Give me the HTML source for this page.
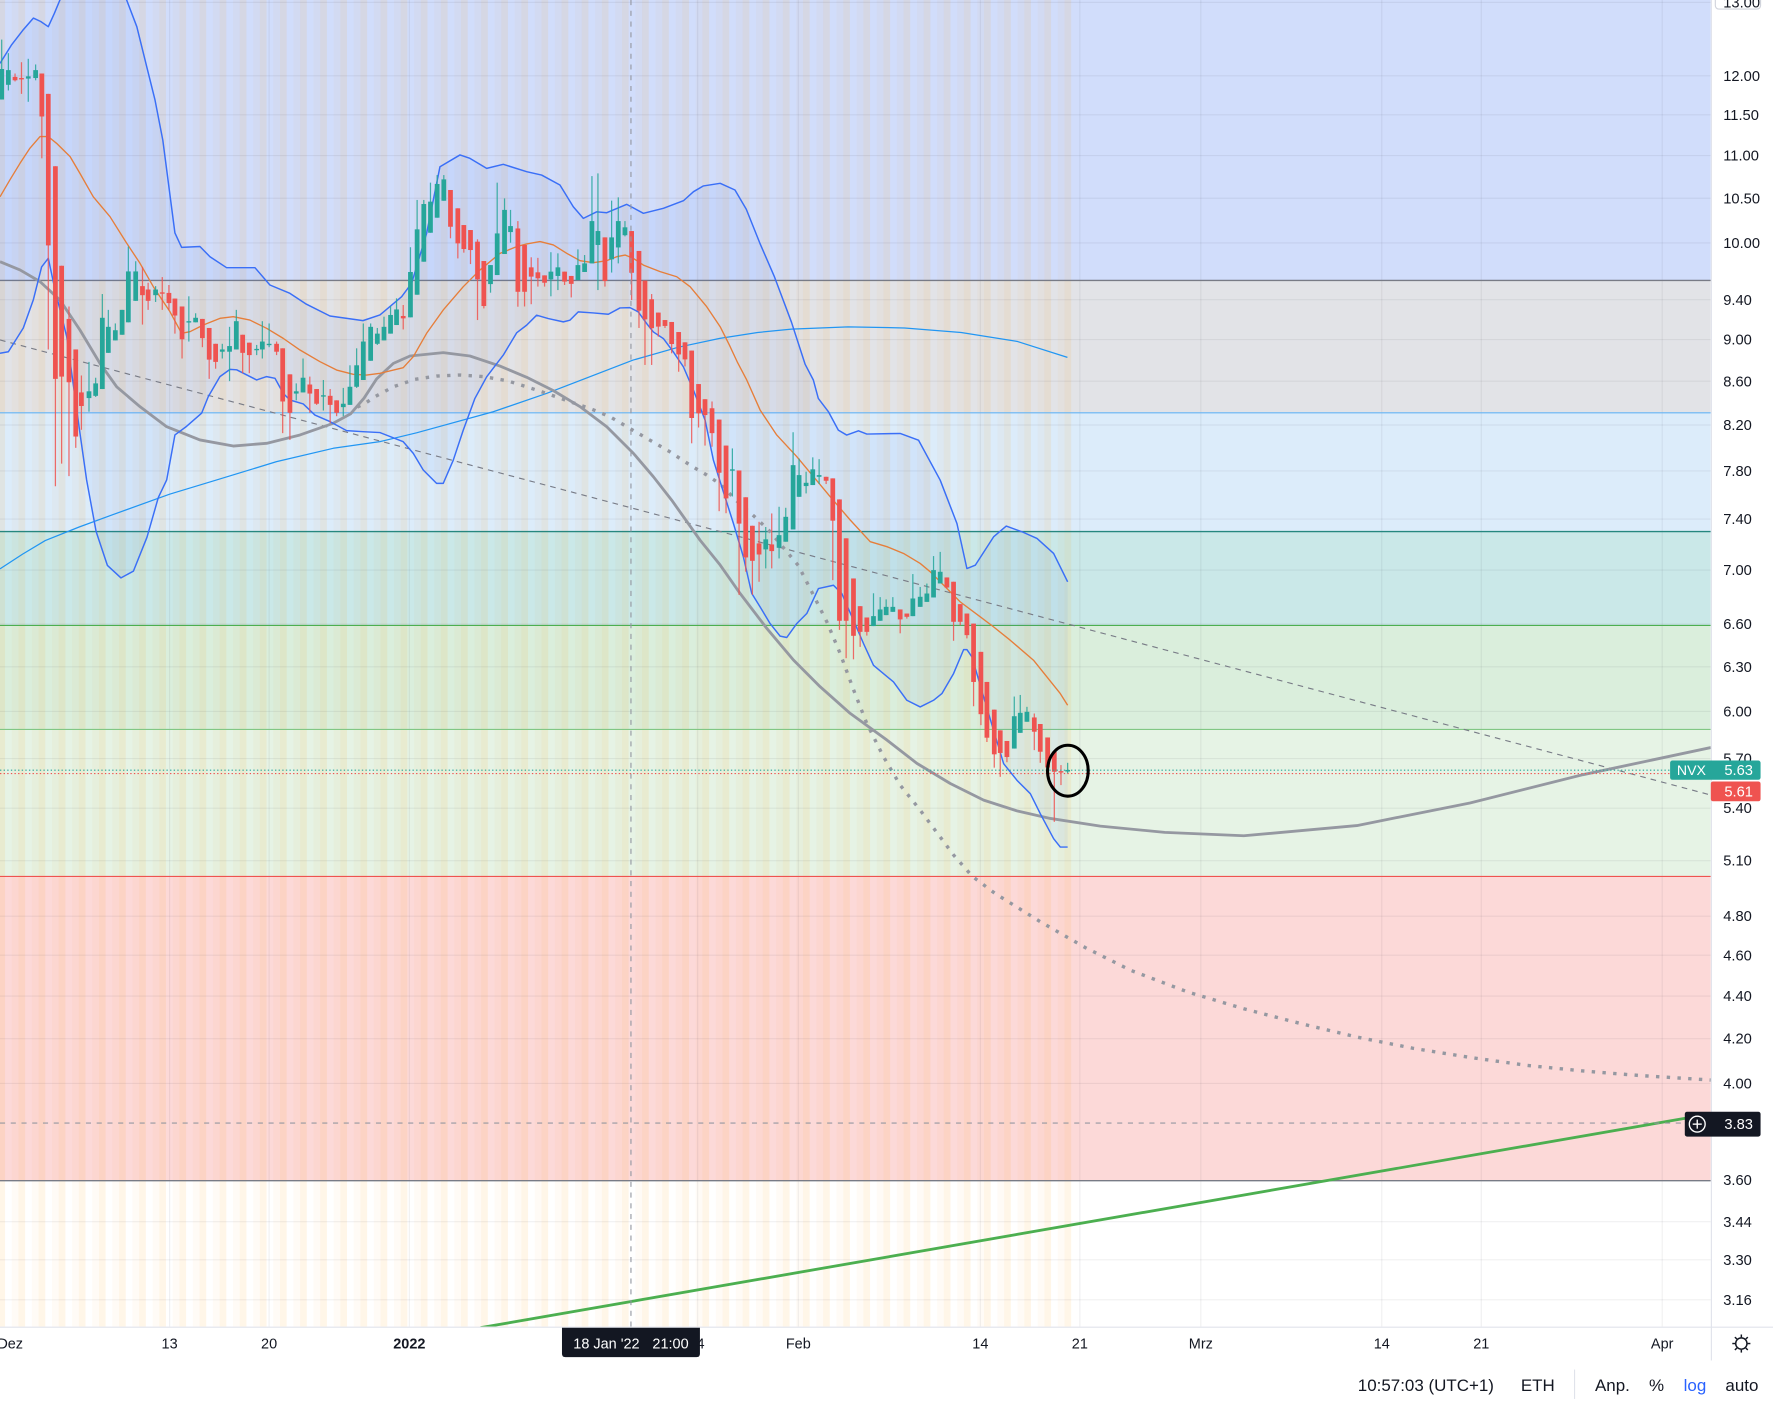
<!DOCTYPE html>
<html><head><meta charset="utf-8">
<style>
html,body{margin:0;padding:0;background:#fff;}
svg{display:block;}
text{font-family:"Liberation Sans",Arial,sans-serif;}
</style></head>
<body>
<svg id="s" width="1773" height="1408" viewBox="0 0 1568 1245" preserveAspectRatio="none" xmlns="http://www.w3.org/2000/svg">
<defs><clipPath id="pc"><rect x="0" y="0" width="1513" height="1173"/></clipPath></defs>
<rect width="1568" height="1245" fill="#fff"/>
<g clip-path="url(#pc)">
 <rect x="0" y="0" width="1513" height="248" fill="#d1ddfb"/>
 <rect x="0" y="248" width="1513" height="117" fill="#e2e3e7"/>
 <rect x="0" y="365" width="1513" height="105" fill="#dcecfa"/>
 <rect x="0" y="470" width="1513" height="83" fill="#cae8e8"/>
 <rect x="0" y="553" width="1513" height="92" fill="#daeedc"/>
 <rect x="0" y="645" width="1513" height="130" fill="#e6f3e5"/>
 <rect x="0" y="775" width="1513" height="269" fill="#fcd9d8"/>
 <g id="stripes"></g>
 <g stroke="rgba(42,46,57,0.07)" stroke-width="1">
  <line x1="0" x2="1513" y1="2.1" y2="2.1"/><line x1="0" x2="1513" y1="67" y2="67"/><line x1="0" x2="1513" y1="101.5" y2="101.5"/><line x1="0" x2="1513" y1="137.6" y2="137.6"/><line x1="0" x2="1513" y1="175.3" y2="175.3"/><line x1="0" x2="1513" y1="214.8" y2="214.8"/><line x1="0" x2="1513" y1="265" y2="265"/><line x1="0" x2="1513" y1="300.3" y2="300.3"/><line x1="0" x2="1513" y1="337.1" y2="337.1"/><line x1="0" x2="1513" y1="375.8" y2="375.8"/><line x1="0" x2="1513" y1="416.4" y2="416.4"/><line x1="0" x2="1513" y1="459" y2="459"/><line x1="0" x2="1513" y1="504.1" y2="504.1"/><line x1="0" x2="1513" y1="551.8" y2="551.8"/><line x1="0" x2="1513" y1="589.6" y2="589.6"/><line x1="0" x2="1513" y1="629.1" y2="629.1"/><line x1="0" x2="1513" y1="670.7" y2="670.7"/><line x1="0" x2="1513" y1="714.6" y2="714.6"/><line x1="0" x2="1513" y1="761" y2="761"/><line x1="0" x2="1513" y1="810.1" y2="810.1"/><line x1="0" x2="1513" y1="844.6" y2="844.6"/><line x1="0" x2="1513" y1="880.7" y2="880.7"/><line x1="0" x2="1513" y1="918.4" y2="918.4"/><line x1="0" x2="1513" y1="958" y2="958"/><line x1="0" x2="1513" y1="1080.3" y2="1080.3"/><line x1="0" x2="1513" y1="1114" y2="1114"/><line x1="0" x2="1513" y1="1149.3" y2="1149.3"/>
  <line x1="150" x2="150" y1="0" y2="1173"/><line x1="238" x2="238" y1="0" y2="1173"/><line x1="362" x2="362" y1="0" y2="1173"/><line x1="617" x2="617" y1="0" y2="1173"/><line x1="706" x2="706" y1="0" y2="1173"/><line x1="867" x2="867" y1="0" y2="1173"/><line x1="955" x2="955" y1="0" y2="1173"/><line x1="1062" x2="1062" y1="0" y2="1173"/><line x1="1222" x2="1222" y1="0" y2="1173"/><line x1="1310" x2="1310" y1="0" y2="1173"/><line x1="1470" x2="1470" y1="0" y2="1173"/>
 </g>
 <line x1="0" x2="1513" y1="248" y2="248" stroke="#787b86" stroke-width="1.2"/>
 <line x1="0" x2="1513" y1="365" y2="365" stroke="#64b5f6" stroke-width="1"/>
 <line x1="0" x2="1513" y1="470" y2="470" stroke="#26877f" stroke-width="1.2"/>
 <line x1="0" x2="1513" y1="553" y2="553" stroke="#4caf50" stroke-width="1"/>
 <line x1="0" x2="1513" y1="645" y2="645" stroke="#81c784" stroke-width="1"/>
 <line x1="0" x2="1513" y1="775" y2="775" stroke="#ef5350" stroke-width="1"/>
 <line x1="0" x2="1513" y1="1044" y2="1044" stroke="#787b86" stroke-width="1.2"/>
 <g id="series"></g>
 <line x1="558" x2="558" y1="0" y2="1173" stroke="#9598a1" stroke-width="1" stroke-dasharray="4.5 5"/>
 <line x1="0" x2="1513" y1="993" y2="993" stroke="#9598a1" stroke-width="1" stroke-dasharray="4.5 5"/>
 <line x1="0" x2="1513" y1="681" y2="681" stroke="#26a69a" stroke-width="1" stroke-dasharray="1.2 2"/>
 <line x1="0" x2="1513" y1="684" y2="684" stroke="#ef5350" stroke-width="1" stroke-dasharray="1.2 2"/>
 <ellipse cx="944.4" cy="681.5" rx="18" ry="22.5" fill="none" stroke="#000" stroke-width="2.7"/>
</g>
<line x1="1513.5" x2="1513.5" y1="0" y2="1203" stroke="#e0e3eb" stroke-width="1"/>
<line x1="0" x2="1568" y1="1173.5" y2="1173.5" stroke="#e0e3eb" stroke-width="1"/>
<g font-size="13" fill="#131722">
 <text x="1524" y="6.6">13.00</text>
 <text x="1524" y="71.5">12.00</text>
 <text x="1524" y="106">11.50</text>
 <text x="1524" y="142">11.00</text>
 <text x="1524" y="179.8">10.50</text>
 <text x="1524" y="219.3">10.00</text>
 <text x="1524" y="269.5">9.40</text>
 <text x="1524" y="304.8">9.00</text>
 <text x="1524" y="341.6">8.60</text>
 <text x="1524" y="380.3">8.20</text>
 <text x="1524" y="420.9">7.80</text>
 <text x="1524" y="463.5">7.40</text>
 <text x="1524" y="508.6">7.00</text>
 <text x="1524" y="556.3">6.60</text>
 <text x="1524" y="594.1">6.30</text>
 <text x="1524" y="633.6">6.00</text>
 <text x="1524" y="675.2">5.70</text>
 <text x="1524" y="719.1">5.40</text>
 <text x="1524" y="765.5">5.10</text>
 <text x="1524" y="814.6">4.80</text>
 <text x="1524" y="849.1">4.60</text>
 <text x="1524" y="885.2">4.40</text>
 <text x="1524" y="922.9">4.20</text>
 <text x="1524" y="962.5">4.00</text>
 <text x="1524" y="1048">3.60</text>
 <text x="1524" y="1084.8">3.44</text>
 <text x="1524" y="1118.5">3.30</text>
 <text x="1524" y="1153.8">3.16</text>
</g>
<rect x="1517" y="-8" width="40" height="16" rx="3" fill="none" stroke="#d1d4dc" stroke-width="1"/>
<rect x="1477" y="672.5" width="80" height="17" rx="2" fill="#26a69a"/>
<text x="1483" y="685.5" font-size="12.5" fill="#fff">NVX</text>
<text x="1525" y="685.5" font-size="13" fill="#fff">5.63</text>
<rect x="1513" y="691" width="44" height="17.5" rx="2" fill="#ef5350"/>
<text x="1525" y="704.3" font-size="13" fill="#fff">5.61</text>
<rect x="1490" y="983" width="67" height="22" rx="2" fill="#131722"/>
<circle cx="1501" cy="994" r="7" fill="none" stroke="#fff" stroke-width="1.2"/>
<line x1="1497" x2="1505" y1="994" y2="994" stroke="#fff" stroke-width="1.2"/>
<line x1="1501" x2="1501" y1="990" y2="998" stroke="#fff" stroke-width="1.2"/>
<text x="1525" y="998.5" font-size="13" fill="#fff">3.83</text>
<g font-size="12.8" fill="#131722" text-anchor="middle">
 <text x="9" y="1192.5">Dez</text>
 <text x="150" y="1192.5">13</text>
 <text x="238" y="1192.5">20</text>
 <text x="362" y="1192.5" font-weight="bold">2022</text>
 <text x="616" y="1192.5">24</text>
 <text x="706" y="1192.5">Feb</text>
 <text x="867" y="1192.5">14</text>
 <text x="955" y="1192.5">21</text>
 <text x="1062" y="1192.5">Mrz</text>
 <text x="1222" y="1192.5">14</text>
 <text x="1310" y="1192.5">21</text>
 <text x="1470" y="1192.5">Apr</text>
</g>
<path d="M497 1174 H619 V1197 Q619 1200 616 1200 H500 Q497 1200 497 1197 Z" fill="#131722"/>
<text x="507" y="1192.5" font-size="12.8" fill="#fff">18 Jan '22</text>
<text x="577" y="1192.5" font-size="12.8" fill="#fff">21:00</text>
<g stroke="#131722" stroke-width="1.3" fill="none">
 <circle cx="1540" cy="1188" r="5"/>
 <line x1="1540" y1="1180" x2="1540" y2="1182.5"/><line x1="1540" y1="1193.5" x2="1540" y2="1196"/>
 <line x1="1532" y1="1188" x2="1534.5" y2="1188"/><line x1="1545.5" y1="1188" x2="1548" y2="1188"/>
 <line x1="1534.3" y1="1182.3" x2="1536" y2="1184"/><line x1="1544" y1="1192" x2="1545.7" y2="1193.7"/>
 <line x1="1545.7" y1="1182.3" x2="1544" y2="1184"/><line x1="1536" y1="1192" x2="1534.3" y2="1193.7"/>
</g>
<g font-size="15" fill="#131722" text-anchor="middle">
 <text x="1261" y="1230">10:57:03 (UTC+1)</text>
 <text x="1360" y="1230">ETH</text>
 <text x="1426" y="1230">Anp.</text>
 <text x="1465" y="1230">%</text>
 <text x="1499" y="1230" fill="#2962ff">log</text>
 <text x="1540.5" y="1230">auto</text>
</g>
<line x1="1392.5" x2="1392.5" y1="1211" y2="1237" stroke="#e0e3eb" stroke-width="1"/>
</svg>
<script>
(function(){
const NS="http://www.w3.org/2000/svg";
const S=document.getElementById('series');
const ST=document.getElementById('stripes');
function el(n,a,p){const e=document.createElementNS(NS,n);for(const k in a)e.setAttribute(k,a[k]);(p||S).appendChild(e);return e;}
function pts(a){let s='';for(let i=0;i<a.length;i+=2)s+=a[i]+','+a[i+1]+' ';return s;}
for(let i=0;i<160;i++){const x=1.5+i*5.93;
 if(i%3==0) el('rect',{x:x-2.97,y:0,width:5.93,height:1173,fill:'rgba(255,152,0,0.09)'},ST);
 else if(i%3==2) el('rect',{x:x-2.97,y:0,width:5.93,height:1173,fill:'rgba(255,152,0,0.035)'},ST);
}
const U=[0,56,10,40,20,27,29.5,16,36,19,42.7,23.6,48,12,53,0,65,-25,85,-35,105,-15,112,0,121,23.6,130,60,137,88,144,124,150,170,154.7,206,160.6,218.7,176.8,218,185.7,227,200.4,236.7,225.5,236.7,238.7,252,256.4,259.4,271,269,291.8,279.4,321,283.5,336,278.5,355.2,262.3,364,250.5,377.3,206.3,389.1,147.4,406.8,137,415.6,140,430.4,148.9,445.1,145.3,465.8,151.8,479,154.8,495.2,163.6,507,182.8,515.9,193.1,527.7,187.3,536.6,188.1,554.3,180.7,569,188.6,586.7,184.2,604.4,177.5,613.3,169.5,622.1,164.4,636.9,162.1,650,168,660,185,672,215,685,245,700,285,712,322,719.3,336,723.7,352.3,732.6,364,741.4,380.3,748.8,384.7,759.2,380.9,766.6,383.8,796.1,383.3,812.3,389.2,831.5,424.6,846.3,462.9,855.1,502.7,862.5,499.8,878.7,474.7,889.9,465.2,903.8,470.2,917.1,476.1,931.8,489.4,944.2,514.5];
const L=[0,312.4,7.4,311,20.6,290,29.5,265,36.8,236,42.7,228.4,48.6,256,59,297.7,70.7,383,76.6,424.4,85,470,95,500,107,511,118,505,130,475,140,440,147.4,424.4,154.7,384.6,165,377,178.3,365.4,184.2,350.7,194.5,333,203.4,326.6,209.3,327,227,336,235.8,333,243.2,334.5,250.5,347.8,256.4,353.7,268.2,357.2,278.5,367,291.8,372.8,306.5,380.8,321,381.7,336,382.5,356.6,390.6,365.5,400.9,374.3,415.6,386.1,427.4,392,427.4,400.9,406.8,409.7,380.3,420,352.3,430.4,333.2,445.1,314,456.9,294.3,465.8,287.5,474.6,278.7,484.9,281.7,498.2,284.6,504.1,283.1,511.4,275.8,524.7,276.7,538,277.9,548.3,272.3,557.1,272,564.5,275.8,571.9,286.1,577.8,293.5,586.7,299.4,595.5,311.2,604.4,324.4,613.3,345.1,623.6,371.6,630.9,406.8,639.7,434.8,648.6,462.8,657.4,492.3,664.8,524.7,672.2,536.6,681,551.3,689.9,562.5,695.8,563.7,704.7,551.3,713.5,542.5,723.8,520.4,737.1,517.5,744.5,524.9,754.8,548.5,763.7,569.1,772.5,588.3,790.2,603,802,619.2,813.8,625.1,825.6,619.2,833,613.3,843.3,595.6,852.2,574.4,855.1,574.4,859.6,580.9,869.9,616.3,878.7,645.8,887.6,675.3,899.4,690,911.2,701.8,920,719.5,931.8,741.6,937.7,749,944.2,749];
const O=[0,174,8.8,159,17.7,144.4,26.5,131,35.4,120.8,42.7,120.8,50,126.7,62,138.5,70.7,153.3,82.5,174,97.3,191.6,112,215,123.8,232.8,135.6,253.5,150.3,275.6,160.6,294.7,168,293.3,179.8,287.4,194.5,281.5,206.3,280,221,283,235.8,290.3,250.5,299.2,265.3,309.5,283,319.8,297.7,327.2,312.4,331,324.2,331.6,336.1,330.1,356.6,325.1,365.5,315.4,377.3,294.7,392,274.1,409.7,253.5,424.5,238.7,442.2,224,456.9,218.1,465.8,215.7,477.6,213.6,489.4,216.6,501.2,224,513,230.5,524.7,232.3,536.6,230.5,545.4,227,552.8,225.5,560.2,228.5,569,234.4,583.8,240.2,598.5,244.7,610.3,253.5,625,271.2,636.9,288.9,645,305,652,320,660.4,336,672.2,362.5,686.9,384.6,704.7,403.8,734.2,439.2,751.9,459.8,769.6,479,784.4,483.4,799.1,489.4,813.8,498.2,822.7,505.6,834.5,517.4,849.2,532.2,866.9,545.4,878.7,554.3,893.4,566.1,914,583.8,925.8,598.5,937.7,613.3,944.2,623.6];
const M=[0,503,20,490,40,478,70,466,100,455,150,437,191.6,424.4,244.6,408.2,294.7,396.4,336,390.5,368.4,382.7,436.2,364.1,483.3,347.9,559.9,318.4,600,307,636.6,299.2,670,294,700,291,750,289,800,290,850,294,900,302,944,316];
const G=[0,231.4,17.7,238.7,35.4,249,53,265.3,70.7,291.8,88.4,321.3,103.2,342,123.8,359.6,147.4,377.3,176.8,389,206.3,394.4,235.8,392,265.3,384.6,294.7,374.3,310,366,322,352,333.1,335,347.9,321.3,362.6,314.8,392,311.8,415.6,314.8,442.2,323.7,465.8,333.6,489.4,345.4,513,359.6,536.6,377.3,560.2,400.9,577.8,421.5,594,442.2,619.1,477.6,636.9,499.6,654.5,524.7,678.1,555.6,701.7,583.6,725.3,607.2,751.9,630.8,784.4,654.4,810.9,675,840.4,692.8,869.9,707.5,899.4,717,928.9,723.7,973.1,730.5,1030,736,1100,739,1200,730,1300,710,1400,685,1513,661];
const D=[316,360,322.8,356.7,331.6,350.8,347.9,342,367,335.4,386.1,332.5,406.8,331.6,427.5,333,448.2,336.6,465.8,342,483.5,347.9,504.1,355.2,521.8,361.2,539.5,368.5,557.1,378.9,574.8,389.2,592.5,399.5,610.3,411.3,625,420,636.9,428,651.6,443,666.4,456,680,469,697.3,489.6,706,500,718,523.5,731.3,550,743.1,578,754.9,610,766.7,640,781.5,669.4,796.2,694.4,813.9,716.5,831.5,740.1,843.3,756,860,775,880,790,920,815,960,838,1000,858,1050,877,1100,892,1150,905,1200,917,1250,927,1300,935,1350,942,1400,947,1450,951,1513,955];
// BB fill
const F=U.slice();for(let i=L.length-2;i>=0;i-=2){F.push(L[i],L[i+1]);}
el('polygon',{points:pts(F),fill:'rgba(41,98,255,0.06)'});
el('polyline',{points:pts(M),fill:'none',stroke:'#2196f3','stroke-width':1.1,'stroke-linejoin':'round'});
el('line',{x1:0,y1:300.6,x2:1513,y2:703,stroke:'#787b86','stroke-width':1,'stroke-dasharray':'5 4.5'});
el('polyline',{points:pts(G),fill:'none',stroke:'#9598a1','stroke-width':2.5,'stroke-linejoin':'round'});
el('polyline',{points:pts(D),fill:'none',stroke:'#9598a1','stroke-width':3,'stroke-dasharray':'3 6.5'});
el('line',{x1:425,y1:1174,x2:1495,y2:988,stroke:'#4caf50','stroke-width':2.5});
el('polyline',{points:pts(U),fill:'none',stroke:'#3a6ff7','stroke-width':1.3,'stroke-linejoin':'round'});
el('polyline',{points:pts(L),fill:'none',stroke:'#3a6ff7','stroke-width':1.3,'stroke-linejoin':'round'});
el('polyline',{points:pts(O),fill:'none',stroke:'#e67e3a','stroke-width':1.2,'stroke-linejoin':'round'});
const C=[[1.5,61,88,35,88,1],[7.4,62,75,47,80,1],[13.3,68,71,65,72,0],[19,69,70,55,83,0],[25,67.5,69.5,52,90,1],[31.5,62,69,57,71,1],[37,65,103,65,140,0],[42.7,83,217,83,309,0],[49,147,335,147,430,0],[54.5,235,333,235,410,0],[61,282,338,271,421,0],[67,309,386,309,396,0],[72,347,359,332,380,0],[78.7,346,352,320,364,1],[84.6,339,350,334,351,1],[90.5,281,344,260,344,1],[95.8,289,312,274,312,1],[102,292,301,286,301,1],[108,274,296,274,296,1],[113.5,240,285,218,285,1],[120,240,266,231,266,1],[126,253,261,236,287,0],[131,256,266,250,274,0],[137.6,256,261,253,267,1],[143.5,258.5,259.5,245,274,0],[149.4,259,268,252,274,0],[154.7,264,279,264,295,0],[161,271,300,271,317,0],[167,284,285,262,302,1],[173,281,285,277,285,1],[179,282,299,282,307,0],[185,290,318,290,335,0],[190.7,304,320,304,326,0],[196.6,309,311,304,317,1],[203,306,311,289,337,1],[209,284,309,274,309,1],[214.6,296,312,296,330,0],[220.5,303,314,303,330,0],[227,308.5,309.5,305,314,1],[232,302,309,284,317,1],[238,304,305,286,307,1],[244.6,304,311,302,314,0],[250,308,355,308,383,0],[256.4,331,365,331,389,0],[262,346,348,339,354,1],[268,334,347,317,347,1],[274,340,348,333,365,0],[280,344,357,344,358,0],[286,349.5,350.5,336,363,1],[292,350,358,344,374,0],[297.7,354,365,354,368,0],[303.6,357,360,343,368,1],[309.5,342,358,323,358,1],[315.4,323,342,308,343,1],[321.3,302,336,286,336,1],[327.8,289,319,286,319,1],[333.7,295,304,290,305,1],[339.6,289,301,280,301,1],[345.4,278.5,295,270.6,295,1],[350.7,273.6,287.4,263.8,287.4,1],[356.6,279.4,281.5,269.7,291.3,0],[363,240.5,280.6,218.6,280.6,1],[368.9,202.8,260.6,176.8,260.6,1],[374.8,180.4,231.4,176.8,231.4,1],[380.7,178.3,205.8,161.5,205.8,1],[386.6,162.7,192.5,154.8,192.5,1],[392.5,158.6,177.5,154.8,177.5,1],[398.4,168,200.5,168,210.7,0],[404.9,184.2,215.2,184.2,228.5,0],[410.2,199,220.2,199,223.4,0],[416.1,203.4,221.1,203.4,233.5,0],[422.3,213.7,247,211.6,283,0],[427.9,230.8,270.6,230.8,272.7,0],[433.8,234.4,251.2,234.4,258.8,1],[439.7,206.4,243.2,161.5,243.2,1],[446.2,185.6,224.6,175.4,224.6,1],[451.5,199.9,205.2,185.6,214.6,1],[458,202,258,195.5,271.2,0],[463.9,216.6,258,216.6,271,0],[469.8,236.4,244.6,227.5,269,0],[475.7,240.8,246.1,228,253.4,0],[481.6,243.5,250,243.5,253.4,0],[487.2,240.2,247,223,262,1],[493.4,236.4,244,224,256.5,1],[499.3,240.2,249,240.2,252,0],[505.2,244,251,244,263,0],[511.1,234.4,247.6,220.5,247.6,1],[517,232.9,240.5,225.5,240.5,1],[523.5,195.5,232.9,155.7,232.9,1],[528.8,204.3,216.6,153.3,256.5,1],[535,209.9,248.5,209.9,253.4,0],[540.9,209.9,229.3,177.4,241,1],[546.8,195.5,218.8,174.5,232.9,1],[552.7,201,208,195.5,209,1],[558.6,204.3,241.2,204.3,265.3,0],[565.1,221.9,274.7,221.9,290,0],[570.4,248.1,282.4,248.1,322.7,0],[576.3,264.6,290.2,260,322.7,0],[582.2,276.4,288.8,276.4,297.7,0],[588.1,283,288.2,283,290,0],[594,284.7,304.2,284.7,312.4,0],[600.2,293.6,313.4,293.6,328.7,0],[605.8,302.7,317.8,302.7,324,0],[611.7,310,369.6,310,392,0],[617.8,339.6,365.5,339.6,378,0],[623.5,353,367,353,394,0],[629.7,361,383,355,395,0],[636,371,418,371,452,0],[642.1,394,440.7,394,453.8,0],[647.7,415,416.2,396.5,439,1],[653.6,416,463,416,526,0],[659.5,439.7,492.9,439.7,505.5,0],[665.4,464.9,495.9,464.9,526,0],[671.3,480.5,490.3,461.4,514.4,0],[677.2,476.9,485.8,466,502.6,1],[682.5,481.4,487.3,454,502.6,0],[689,473.2,484.4,448.1,493.8,1],[694.9,457,479,449,479,1],[701.4,411.3,468.2,382.2,468.2,1],[706.7,420.1,439.3,405.4,439.3,1],[712.9,426.9,429.8,417.1,436.3,1],[718.8,415,428.9,404.4,428.9,1],[724.4,420.1,421.6,406,428,1],[730.6,421.6,425.1,421.6,428,0],[736.5,423,460.4,423,513,0],[742.4,441.6,548.9,441.6,557,0],[748.3,476,548.9,476,582,0],[754.8,511.5,562.2,511.5,583,0],[760.7,536,558.7,536,572,0],[766.6,546,558.7,546,562,0],[772.5,544.8,553.6,524.6,553.6,1],[778.4,538.9,548.9,528,548.9,1],[783.7,536.6,543.9,530,543.9,1],[789.6,536.6,541,528,541,1],[796.1,538.9,547.7,538.9,560,0],[802,542.5,545.4,542.5,547,0],[807.3,529.2,544.8,507.6,544.8,1],[813.8,527.7,536.6,519,536.6,1],[819.7,524.8,532.2,516,532.2,1],[825.6,504.1,528.3,491.7,528.3,1],[831.5,505.6,515.9,488,515.9,1],[837.4,510.6,519.5,510.6,520.5,0],[843.3,514.4,549.8,514.4,566.6,0],[849.2,534.2,549.8,534.2,553,0],[855.1,542.5,561.6,542.5,564.5,0],[861,551.4,603,551.4,624.5,0],[867.5,576.4,631.5,576.4,641.2,0],[872.8,603,652.3,603,656.1,0],[879.3,627.5,667,627.5,678.8,0],[884.6,645.8,665.8,645.8,686.9,0],[890.5,655.2,669.4,655.2,674,0],[897,633.3,661.9,615.9,661.9,1],[902.3,630.3,648,614.5,648,1],[908.2,629.4,638.2,625,638.2,1],[914.7,634.4,647,630.9,663.3,0],[920,640.2,664.7,640.2,674.5,0],[926.5,652.1,678.6,652.1,686.9,0],[932.4,664.7,682.4,664.7,726.7,0],[938.3,681.9,682.9,676.5,694.2,0],[944.2,680.8,682.2,674.5,684,1]];
for(const c of C){
 const col=c[5]?'#26a69a':'#ef5350';
 const wt=Math.min(c[3],c[1]), wb=Math.max(c[4],c[2]);
 el('line',{x1:c[0],x2:c[0],y1:wt,y2:wb,stroke:col,'stroke-width':1.1,'stroke-opacity':0.85});
 el('rect',{x:c[0]-2.1,y:c[1],width:4.2,height:Math.max(c[2]-c[1],1.2),fill:col});
}
})();
</script>
</body></html>
